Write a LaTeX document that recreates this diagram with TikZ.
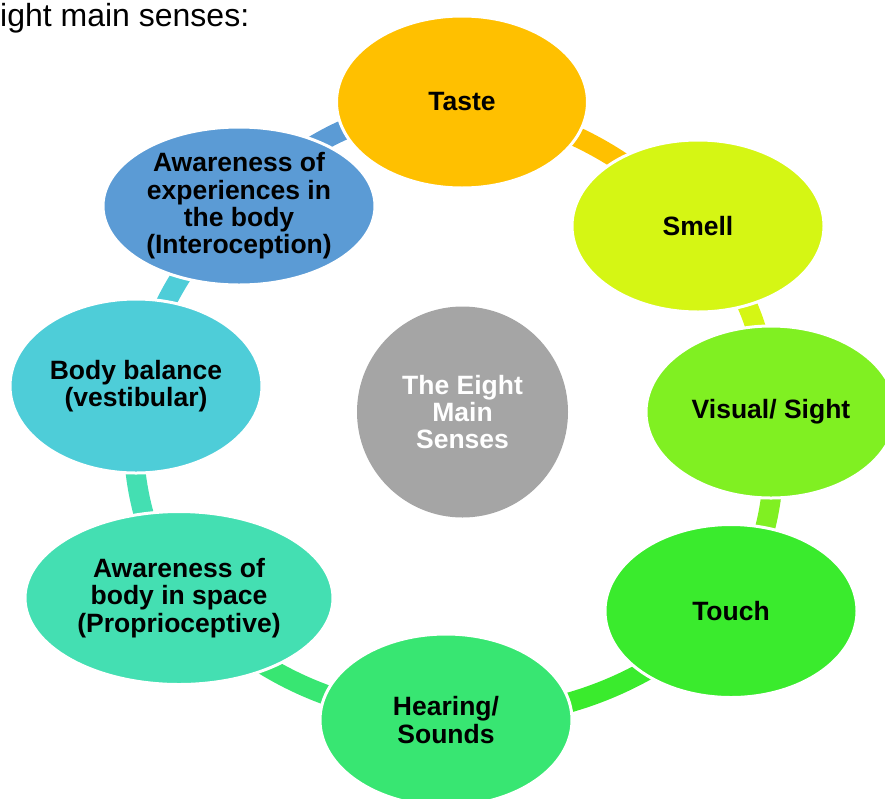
\documentclass[tikz,border=0pt]{standalone}
\usepackage{fontspec}
\setmainfont{Liberation Sans}
\usetikzlibrary{shapes.geometric,backgrounds}
\definecolor{cTaste}{HTML}{FFC000}
\definecolor{cSmell}{HTML}{D5F614}
\definecolor{cVisual}{HTML}{80F022}
\definecolor{cTouch}{HTML}{3AEB2D}
\definecolor{cHearing}{HTML}{38E672}
\definecolor{cProprio}{HTML}{44DFB2}
\definecolor{cBody}{HTML}{4ECDD8}
\definecolor{cIntero}{HTML}{5B9BD5}
\definecolor{cCenter}{HTML}{A5A5A5}
\begin{document}
\begin{tikzpicture}[x=1pt,y=-1pt,
  sense/.style={ellipse, draw=white, line width=3pt, inner sep=0pt, align=center,
    font=\bfseries\fontsize{26.5}{27.3}\selectfont, text=black},
  ringseg/.style={line width=20pt}]
\useasboundingbox (0,0) rectangle (885,798);
\clip (0,0) rectangle (885,798);
\node[anchor=base west, inner sep=0pt, font=\fontsize{32}{36}\selectfont] (title) at (0,26.5) {ight main senses:};
\node[sense, fill=cTaste, minimum width=251pt, minimum height=172pt] (taste) at (462,102) {Taste};
\node[sense, fill=cSmell, minimum width=252pt, minimum height=172pt] (smell) at (698,226) {Smell};
\node[sense, fill=cVisual, minimum width=250pt, minimum height=172pt] (visual) at (771,412) {Visual/ Sight};
\node[sense, fill=cTouch, minimum width=252pt, minimum height=173pt] (touch) at (731,611) {Touch};
\node[sense, fill=cHearing, minimum width=252pt, minimum height=172pt] (hearing) at (446,720) {Hearing/\\Sounds};
\node[sense, fill=cProprio, minimum width=308pt, minimum height=173pt] (proprio) at (179,598) {Awareness of\\body in space\\(Proprioceptive)};
\node[sense, fill=cBody, minimum width=252pt, minimum height=174pt] (body) at (136,386) {Body balance\\(vestibular)};
\node[sense, fill=cIntero, minimum width=272pt, minimum height=158pt] (intero) at (239,206) {Awareness of\\experiences in\\the body\\(Interoception)};
\node[circle, fill=cCenter, minimum size=211pt, inner sep=0pt, align=center, text=white,
  font=\bfseries\fontsize{26.5}{27.3}\selectfont] (center) at (462.5,412) {The Eight\\Main\\Senses};
\begin{scope}[on background layer]
\draw[ringseg, cTaste] (taste.center) to[bend left=17] (smell.center);
\draw[ringseg, cSmell] (smell.center) to[bend left=17] (visual.center);
\draw[ringseg, cVisual] (visual.center) to[bend left=17] (touch.center);
\draw[ringseg, cTouch] (touch.center) to[bend left=19] (hearing.center);
\draw[ringseg, cHearing] (hearing.center) to[bend left=19] (proprio.center);
\draw[ringseg, cProprio] (proprio.center) to[bend left=17] (body.center);
\draw[ringseg, cBody] (body.center) to[bend left=15] (intero.center);
\draw[ringseg, cIntero] (intero.center) to[bend left=20] (taste.center);
\end{scope}
\end{tikzpicture}
\end{document}
